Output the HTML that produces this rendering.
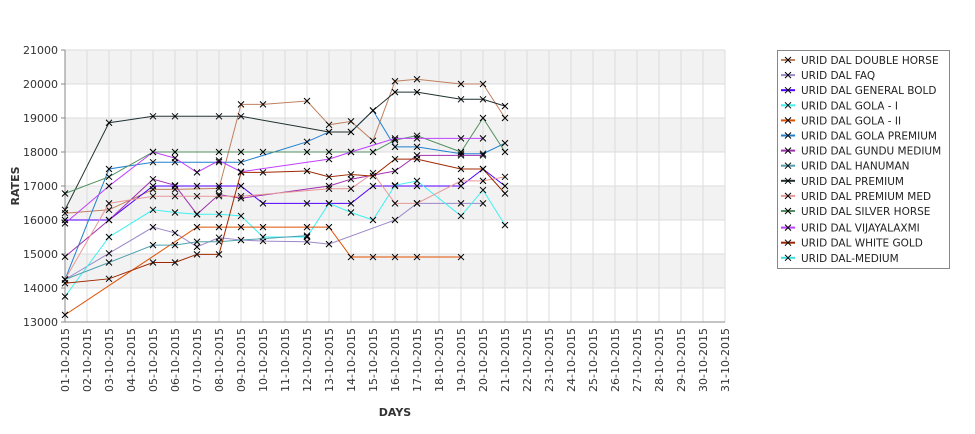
<!DOCTYPE html>
<html><head><meta charset="utf-8"><style>
body{margin:0;background:#fff;font-family:"Liberation Sans","DejaVu Sans",sans-serif}
svg text{font-family:"DejaVu Sans","Liberation Sans",sans-serif}
</style></head><body>
<svg id="c" width="975" height="429" xmlns="http://www.w3.org/2000/svg"></svg>
<script>
const days=[1,3,5,6,7,8,9,10,12,13,14,15,16,17,19,20,21];
const names=["URID DAL DOUBLE HORSE","URID DAL FAQ","URID DAL GENERAL BOLD","URID DAL GOLA - I","URID DAL GOLA - II","URID DAL GOLA PREMIUM","URID DAL GUNDU MEDIUM","URID DAL HANUMAN","URID DAL PREMIUM","URID DAL PREMIUM MED","URID DAL SILVER HORSE","URID DAL VIJAYALAXMI","URID DAL WHITE GOLD","URID DAL-MEDIUM"];
const colors=["#c08060","#9c88c8","#5000ff","#40f0f0","#e05000","#2080d0","#a030b0","#50a0b0","#203030","#e89898","#509060","#c040ff","#a02800","#40e0e0"];
const sDoubleHorse=[16200,16300,16900,16900,null,16930,19400,19400,19500,18800,18900,18330,20080,20140,20000,20000,19000];
const sFaq=[14250,15020,15790,15620,15210,15480,15410,15380,15360,15290,null,null,16000,16490,16490,16490,null];
const sGeneralBold=[16000,16000,17000,17000,17000,17000,17000,16490,16490,16490,16490,17000,17000,17000,17000,17500,17000];
const sGolaI=[13750,15500,16300,16220,16170,16170,16120,15500,15500,16490,16220,16000,17020,17150,16120,16880,15850];
const sGolaII=[13210,null,null,null,15790,15790,15790,15790,15790,15790,14910,14910,14910,14910,14910,null,null];
const sGolaPremium=[14250,17500,17700,17700,null,17700,17700,null,18300,18590,18590,19220,18150,18150,17950,17950,18260];
const sGundu=[14920,16000,17200,17020,16170,16750,16640,null,null,17000,17200,null,17440,17900,17900,17900,null];
const sHanuman=[14250,14750,15260,15260,15360,15360,15410,null,15540,null,null,null,null,null,null,null,null];
const sPremium=[16300,18860,19050,19050,null,19050,19050,null,null,18590,18590,19220,19760,19760,19550,19550,19350];
const sPremiumMed=[14250,16490,16700,16700,16700,16700,16700,null,null,16920,16920,17380,16490,16490,17150,17150,17270];
const sSilver=[16780,17270,18000,18000,null,18000,18000,18000,18000,18000,18000,18000,18350,18480,18000,19000,18000];
const sVijay=[15900,17000,18000,17820,17400,17750,17420,null,null,17790,18000,null,18400,18400,18400,18400,null];
const sWhiteGold=[14140,14270,14750,14750,14990,14990,17400,17400,17440,17270,17340,17290,17790,17790,17500,17500,16780];
const sMedium=[];
const series=[sDoubleHorse,sFaq,sGeneralBold,sGolaI,sGolaII,sGolaPremium,sGundu,sHanuman,sPremium,sPremiumMed,sSilver,sVijay,sWhiteGold,sMedium];
const yTicks=[13000,14000,15000,16000,17000,18000,19000,20000,21000];

const L=65,R=725,T=50,B=322,ymin=13000,ymax=21000;
const X=d=>L+(d-1)*(R-L)/30;
const Y=v=>B-(v-ymin)*(B-T)/(ymax-ymin);
const svg=document.getElementById('c');const NS="http://www.w3.org/2000/svg";
function mk(t,a,p){const e=document.createElementNS(NS,t);for(const k in a)e.setAttribute(k,a[k]);(p||svg).appendChild(e);return e;}
for(let i=0;i<yTicks.length-1;i++){
 if(i%2===1){const r=mk('rect',{x:L,y:Y(yTicks[i+1]),width:R-L,height:Y(yTicks[i])-Y(yTicks[i+1]),fill:'#f2f2f2'});
 
 }
}
for(let d=1;d<=31;d++){const l=mk('line',{x1:X(d),x2:X(d),y1:T,y2:B,stroke:'#dcdcdc'});
 
 
 const t=mk('text',{x:0,y:0,'font-size':11,fill:'#333','text-anchor':'end',transform:`translate(${X(d)+4},${B+6}) rotate(-90)`});
 t.textContent=String(d).padStart(2,'0')+'-10-2015';
 
 
}
yTicks.forEach(v=>{const l=mk('line',{x1:L,x2:R,y1:Y(v),y2:Y(v),stroke:'#dcdcdc'});
 
 
 mk('line',{x1:L-4,x2:L,y1:Y(v),y2:Y(v),stroke:'#888'});
 const t=mk('text',{x:L-7,y:Y(v)+4,'font-size':11,fill:'#333','text-anchor':'end'});t.textContent=v;
 
 
});
mk('line',{x1:L,x2:L,y1:T,y2:B,stroke:'#888'});mk('line',{x1:L,x2:R,y1:B,y2:B,stroke:'#888'});
const yt=mk('text',{x:0,y:0,'font-size':11,'font-weight':'bold',fill:'#333','text-anchor':'middle',transform:'translate(19,186) rotate(-90)'});yt.textContent='RATES';

const xt=mk('text',{x:395,y:416,'font-size':11,'font-weight':'bold',fill:'#333','text-anchor':'middle'});xt.textContent='DAYS';

function cross(x,y,p){mk('path',{d:`M${x-3},${y-3}L${x+3},${y+3}M${x-3},${y+3}L${x+3},${y-3}`,stroke:'#000','stroke-width':1},p);}
series.forEach((s,i)=>{
 const g=mk('g',{});
 
 
 let pts=[];s.forEach((v,j)=>{if(v!=null)pts.push([X(days[j]),Y(v)]);});
 if(pts.length>1)mk('polyline',{points:pts.map(p=>p.join(',')).join(' '),fill:'none',stroke:colors[i],'stroke-width':1},g);
 pts.forEach(p=>cross(p[0],p[1],g));
});
const lg=mk('g',{});
mk('rect',{x:777.5,y:50.5,width:172,height:218,fill:'#fff',stroke:'#888'},lg);
names.forEach((n,i)=>{const y=60+i*15.1+(i>=11?1.5:0);
 const e=mk('g',{},lg);
 mk('line',{x1:781,x2:795,y1:y,y2:y,stroke:colors[i],'stroke-width':2},e);cross(788,y,e);
 const t=mk('text',{x:801,y:y+4,'font-size':10.5,fill:'#222'},e);t.textContent=n;});
</script>
</body></html>
